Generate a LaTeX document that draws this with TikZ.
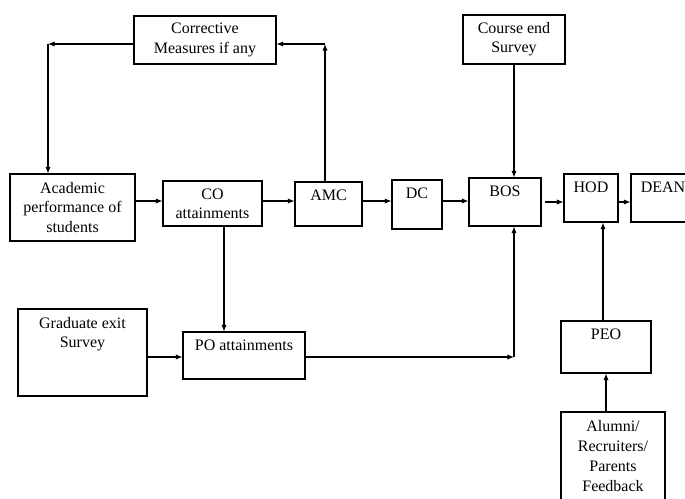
\documentclass[tikz,border=0pt]{standalone}
\usepackage{fontspec}
\setmainfont{Liberation Serif}
\usetikzlibrary{arrows.meta}

\tikzset{
  blk/.style={draw, line width=0.8pt, align=center, inner sep=0pt,
    font=\fontsize{12}{14.5}\selectfont},
  toptxt/.style={anchor=north, align=center, inner sep=0pt, yshift=-6.5pt,
    font=\fontsize{12}{14.5}\selectfont},
  arr/.style={line width=0.8pt, -{Latex[length=5pt,width=4pt]}}
}

\begin{document}
\begin{tikzpicture}[x=0.75pt,y=-0.75pt]
\useasboundingbox (0,0) rectangle (685,499);

% boxes
\node[blk, minimum width=106.5pt, minimum height=36pt] (corr) at (205,40) {Corrective\\Measures if any};
\node[blk, minimum width=76.5pt, minimum height=36.75pt] (ces) at (514,39.5) {Course end\\Survey};
\node[blk, minimum width=93.75pt, minimum height=50.25pt] (acad) at (72.5,207.5) {Academic\\performance of\\students};
\node[blk, minimum width=74.25pt, minimum height=33.75pt] (co) at (212.5,203.5) {CO\\attainments};
\node[blk, minimum width=50.25pt, minimum height=33pt, label={[toptxt]north:AMC}] (amc) at (328.5,204) {};
\node[blk, minimum width=37.5pt, minimum height=36.75pt, label={[toptxt]north:DC}] (dc) at (417,204.5) {};
\node[blk, minimum width=54pt, minimum height=36pt, label={[toptxt]north:BOS}] (bos) at (505,202) {};
\node[blk, minimum width=40.5pt, minimum height=36pt, label={[toptxt]north:HOD}] (hod) at (591,198) {};
\node[blk, minimum width=48pt, minimum height=36pt, label={[toptxt]north:DEAN}] (dean) at (663,198) {};
\node[blk, minimum width=96.75pt, minimum height=65.25pt, label={[toptxt]north:{Graduate exit\\Survey}}] (ges) at (82.5,352.5) {};
\node[blk, minimum width=91.5pt, minimum height=35.25pt, label={[toptxt]north:PO attainments}] (po) at (244,355.5) {};
\node[blk, minimum width=67.5pt, minimum height=39pt, label={[toptxt]north:PEO}] (peo) at (606,347) {};
\node[blk, minimum width=78pt, minimum height=66pt, font=\fontsize{12}{15}\selectfont] (alum) at (613,456) {Alumni/\\Recruiters/\\Parents\\Feedback};

% connectors
\coordinate (row) at (0,201);
\coordinate (row2) at (0,202);
\draw[arr] (acad.east |- row) -- (co.west |- row);
\draw[arr] (co.east |- row) -- (amc.west |- row);
\draw[arr] (amc.east |- row) -- (dc.west |- row);
\draw[arr] (dc.east |- row) -- (bos.west |- row);
\draw[arr] ([xshift=2.25pt]bos.east |- row2) -- (hod.west |- row2);
\draw[arr] (hod.east |- row2) -- (dean.west |- row2);

\coordinate (up) at (325,44);
\draw[arr] (amc.north -| up) -- (up);
\draw[arr] (up) -- (corr.east |- up);
\coordinate (back) at (48,44);
\draw[arr] (corr.west |- back) -- (back);
\draw[arr] (back) -- (acad.north -| back);

\coordinate (bcol) at (514,357);
\draw[arr] (ces.south -| bcol) -- (bos.north -| bcol);
\coordinate (cocol) at (224,0);
\draw[arr] (co.south -| cocol) -- (po.north -| cocol);
\draw[arr] (ges.east |- bcol) -- (po.west |- bcol);
\draw[arr] (po.east |- bcol) -- (bcol);
\draw[arr] (bcol) -- (bos.south -| bcol);

\coordinate (hcol) at (603,0);
\draw[arr] (peo.north -| hcol) -- (hod.south -| hcol);
\coordinate (pcol) at (606,0);
\draw[arr] (alum.north -| pcol) -- (peo.south -| pcol);

\end{tikzpicture}
\end{document}
